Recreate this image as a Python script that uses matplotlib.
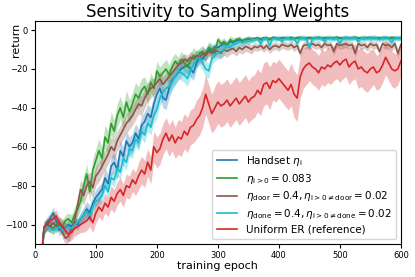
import numpy as np
import matplotlib
matplotlib.use("Agg")
import matplotlib.pyplot as plt

epochs = list(range(10, 601, 5))

red = [-122, -101, -100, -98, -97, -95.5, -99, -101, -103, -105,
       -104, -102, -101, -100, -99, -98, -96, -99, -94, -91,
       -93, -89, -91, -86, -88, -84, -82, -85, -80, -81,
       -77, -79, -75, -72, -74, -68, -72, -60, -63, -61,
       -56, -53, -57, -54, -58, -55, -56, -52, -54, -50,
       -49, -46, -44, -40, -33, -38, -43, -40, -37, -39,
       -38, -36, -39, -37, -35, -38, -36, -34, -37, -35,
       -34, -31, -33, -28, -27, -30, -26, -27, -25, -27,
       -29, -31, -28, -33, -35, -24, -20, -18, -17, -19,
       -20, -22, -19, -20, -18, -19, -17, -16, -18, -16,
       -15, -19, -17, -16, -20, -19, -21, -22, -20, -19,
       -22, -21, -18, -14, -17, -20, -21, -20, -16]
red_sd = [4, 3, 3, 3, 3, 3, 3, 4, 4, 4,
          4, 4, 4, 4, 5, 5, 5, 5, 5, 5,
          5, 5, 5, 6, 6, 6, 6, 6, 6, 6,
          6, 6, 7, 7, 7, 7, 7, 8, 8, 8,
          8, 8, 8, 8, 8, 9, 9, 9, 9, 9,
          9, 10, 10, 10, 10, 10, 10, 11, 11, 11,
          11, 11, 11, 11, 11, 11, 11, 11, 11, 11,
          11, 11, 11, 11, 11, 11, 10, 10, 10, 10,
          10, 10, 11, 12, 12, 11, 10, 10, 9, 9,
          9, 9, 9, 9, 9, 9, 9, 9, 9, 9,
          9, 9, 9, 9, 10, 10, 10, 10, 10, 9,
          9, 9, 9, 9, 9, 9, 9, 8, 8]

green = [-120, -102, -100, -101, -102, -100, -99, -101, -98, -97,
         -99, -95, -92, -88, -80, -74, -83, -72, -67, -62,
         -66, -55, -58, -48, -52, -44, -40, -45, -37, -42,
         -38, -33, -35, -31, -29, -33, -27, -30, -21, -24,
         -22, -20, -23, -19, -16, -18, -15, -17, -19, -16,
         -13, -15, -12, -11, -13, -9, -10, -12, -5, -7,
         -6, -8, -5, -6, -5, -4.5, -6, -5, -4.5, -5,
         -4.5, -4, -5, -4.5, -4, -5, -3.8, -4.2, -4.5, -4,
         -4, -4.2, -3.8, -4.5, -4, -3.8, -4.2, -4, -3.9, -4.1,
         -4, -3.8, -4.2, -4, -3.9, -4.1, -4, -3.8, -4.2, -4,
         -3.9, -4.1, -4, -3.8, -4.2, -4, -3.9, -4, -4.1, -3.9,
         -4, -4.2, -3.9, -4, -4.1, -3.8, -4, -4.2, -4]
green_sd = [3, 3, 3, 3, 3, 3, 3, 3, 3, 3,
            4, 4, 4, 4, 5, 5, 5, 6, 6, 6,
            6, 6, 6, 6, 6, 6, 6, 6, 6, 6,
            6, 6, 6, 6, 5, 5, 5, 5, 5, 5,
            5, 5, 5, 5, 4, 4, 4, 4, 4, 4,
            4, 4, 3, 3, 3, 3, 3, 3, 2, 2,
            2, 2, 2, 2, 1.5, 1.5, 1.5, 1.5, 1.5, 1.5,
            1, 1, 1, 1, 1, 1, 1, 1, 1, 1,
            1, 1, 1, 1, 1, 1, 1, 1, 1, 1,
            1, 1, 1, 1, 1, 1, 1, 1, 1, 1,
            1, 1, 1, 1, 1, 1, 1, 1, 1, 1,
            1, 1, 1, 1, 1, 1, 1, 1, 1]

blue = [-118, -102, -99, -97, -94, -98, -103, -101, -102, -100,
        -101, -99, -100, -97, -95, -92, -94, -89, -86, -84,
        -82, -76, -79, -70, -68, -72, -62, -65, -57, -60,
        -58, -53, -56, -49, -47, -43, -45, -38, -33, -30,
        -35, -36, -30, -26, -24, -22, -20, -19, -18, -20,
        -22, -17, -14, -15, -12, -10, -11, -8.5, -9, -8,
        -7, -7.5, -6, -6.5, -5.5, -5, -5.5, -5, -4.5, -4.8,
        -4.5, -4.2, -4.6, -4, -4.3, -4.5, -4, -4.2, -4.4, -4,
        -4.1, -4.3, -4, -4.4, -3.9, -4.2, -4.1, -4.5, -4, -4.2,
        -4.1, -3.9, -4.3, -4, -4.2, -4, -4.4, -3.9, -4.1, -4.2,
        -4, -4.3, -4.1, -3.9, -4.2, -4.1, -4.4, -4, -3.9, -4.2,
        -4.1, -4, -4.3, -3.9, -4.2, -4.1, -4, -4.2, -4.1]
blue_sd = [3, 3, 3, 3, 3, 3, 3, 3, 3, 3,
           3, 3, 3, 3, 4, 4, 4, 4, 4, 4,
           4, 5, 5, 5, 5, 5, 5, 5, 5, 5,
           5, 5, 5, 5, 5, 5, 5, 5, 5, 5,
           5, 5, 5, 4, 4, 4, 4, 4, 4, 4,
           4, 3, 3, 3, 3, 3, 3, 2, 2, 2,
           2, 2, 2, 1.5, 1.5, 1.5, 1.5, 1.5, 1.5, 1.5,
           1, 1, 1, 1, 1, 1, 1, 1, 1, 1,
           1, 1, 1, 1, 1, 1, 1, 1, 1, 1,
           1, 1, 1, 1, 1, 1, 1, 1, 1, 1,
           1, 1, 1, 1, 1, 1, 1, 1, 1, 1,
           1, 1, 1, 1, 1, 1, 1, 1, 1]

brown = [-122, -102, -100, -101, -99, -101, -100, -104, -107, -106,
         -102, -98, -90, -82, -85, -80, -78, -81, -75, -73,
         -70, -67, -64, -60, -62, -57, -54, -51, -48, -46,
         -44, -41, -38, -39, -35, -32, -30, -29, -27, -25,
         -28, -26, -24, -22, -20, -18, -17, -15, -16, -14,
         -15, -13, -14, -12, -13, -11, -12, -10.5, -11, -12,
         -10, -11, -10, -9.5, -11, -9, -10, -8.5, -9, -10,
         -8.5, -9, -8, -9.5, -8, -10, -8.5, -8, -9, -7.5,
         -8, -8.5, -7.5, -9, -8, -12, -8, -7.5, -8, -7,
         -8, -7.5, -9, -7, -8, -7.5, -11, -7, -8, -7.5,
         -7, -8, -7.5, -12, -7, -8, -7.5, -9, -7, -8,
         -7.5, -11, -7, -8, -7.5, -9, -7, -12, -7.5]
brown_sd = [3, 3, 3, 3, 3, 3, 3, 3, 3, 3,
            4, 4, 5, 5, 5, 5, 5, 5, 5, 5,
            5, 5, 5, 5, 5, 5, 5, 5, 5, 5,
            5, 5, 5, 5, 5, 5, 5, 4, 4, 4,
            4, 4, 4, 4, 4, 3, 3, 3, 3, 3,
            3, 3, 3, 3, 3, 3, 3, 3, 3, 3,
            3, 3, 2.5, 2.5, 2.5, 2.5, 2.5, 2.5, 2.5, 2.5,
            2, 2, 2, 2, 2, 2, 2, 2, 2, 2,
            2, 2, 2, 2, 2, 2, 2, 2, 2, 2,
            2, 2, 2, 2, 2, 2, 2, 2, 2, 2,
            2, 2, 2, 2, 2, 2, 2, 2, 2, 2,
            2, 2, 2, 2, 2, 2, 2, 2, 2]

cyan = [-120, -103, -101, -102, -103, -102, -101, -103, -102, -101,
        -102, -100, -99, -97, -95, -93, -96, -91, -88, -87,
        -85, -80, -83, -76, -77, -71, -73, -66, -68, -61,
        -62, -56, -58, -52, -54, -48, -50, -44, -41, -35,
        -32, -30, -29, -27, -24, -21, -22, -23, -25, -21,
        -18, -15, -14, -17, -20, -21, -15, -13, -12, -11,
        -10, -8, -9, -7, -7.5, -6, -6.5, -5.5, -6, -5,
        -5, -4.5, -7, -4.5, -4.2, -8, -4.3, -4.5, -4, -6,
        -4.2, -4, -5, -4.3, -7, -4.1, -4, -4.5, -9, -4.2,
        -4, -4.3, -4.1, -6, -4, -4.2, -4.5, -4, -7, -4.1,
        -4, -4.3, -4.1, -4, -6, -4.2, -4, -4.5, -4.1, -4,
        -4.2, -5, -4, -4.3, -4.1, -6.5, -4, -4.2, -4]
cyan_sd = [2, 2, 2, 2, 2, 2, 2, 2, 2, 2,
           2, 2, 2, 3, 3, 3, 3, 3, 3, 3,
           3, 3, 3, 3, 4, 4, 4, 4, 4, 4,
           4, 4, 4, 4, 4, 4, 4, 4, 4, 4,
           4, 4, 4, 4, 4, 4, 4, 4, 4, 4,
           4, 4, 4, 4, 4, 4, 3, 3, 3, 3,
           3, 2, 2, 2, 2, 2, 2, 1.5, 1.5, 1.5,
           1.5, 1.5, 1.5, 1.5, 1.5, 1.5, 1.5, 1.5, 1.5, 1.5,
           1.5, 1.5, 1.5, 1.5, 1.5, 1.5, 1.5, 1.5, 1.5, 1.5,
           1.5, 1.5, 1.5, 1.5, 1.5, 1.5, 1.5, 1.5, 1.5, 1.5,
           1.5, 1.5, 1.5, 1.5, 1.5, 1.5, 1.5, 1.5, 1.5, 1.5,
           1.5, 1.5, 1.5, 1.5, 1.5, 1.5, 1.5, 1.5, 1.5]

labels = [r'Handset $\eta_\mathrm{i}$',
          r'$\eta_{\mathrm{i}>0} = 0.083$',
          r'$\eta_\mathrm{door} = 0.4, \eta_{\mathrm{i}>0 \neq \mathrm{door}} = 0.02$',
          r'$\eta_\mathrm{done} = 0.4, \eta_{\mathrm{i}>0 \neq \mathrm{done}} = 0.02$',
          'Uniform ER (reference)']
series = [blue, green, brown, cyan, red]
sds = [blue_sd, green_sd, brown_sd, cyan_sd, red_sd]
colors = ['#1f77b4', '#2ca02c', '#8c564b', '#17becf', '#d62728']

fig = plt.figure(figsize=(4.15, 2.77), dpi=100)
ax = fig.add_axes([0.084, 0.119, 0.882, 0.805])
x = np.array(epochs)
for y, s, c, lab in zip(series, sds, colors, labels):
    y = np.array(y, dtype=float)
    s = np.array(s, dtype=float)
    ax.fill_between(x, y - s, y + s, color=c, alpha=0.3, linewidth=0)
    ax.plot(x, y, color=c, linewidth=1.2, label=lab)

ax.set_xlim(0, 600)
ax.set_ylim(-110, 4.6)
ax.set_xticks([0, 100, 200, 300, 400, 500, 600])
ax.set_yticks([0, -20, -40, -60, -80, -100])
ax.tick_params(labelsize=6, length=3, width=0.8, pad=2)
ax.set_xlabel('training epoch', fontsize=8, labelpad=1)
ax.set_ylabel('return', fontsize=8)
ax.yaxis.set_label_coords(-0.038, 0.915)
ax.set_title('Sensitivity to Sampling Weights', fontsize=12, pad=3)
ax.legend(loc='lower right', fontsize=7.5, framealpha=0.8,
          handlelength=2, borderpad=0.4, labelspacing=0.35)
fig.savefig('out.png', dpi=100)
